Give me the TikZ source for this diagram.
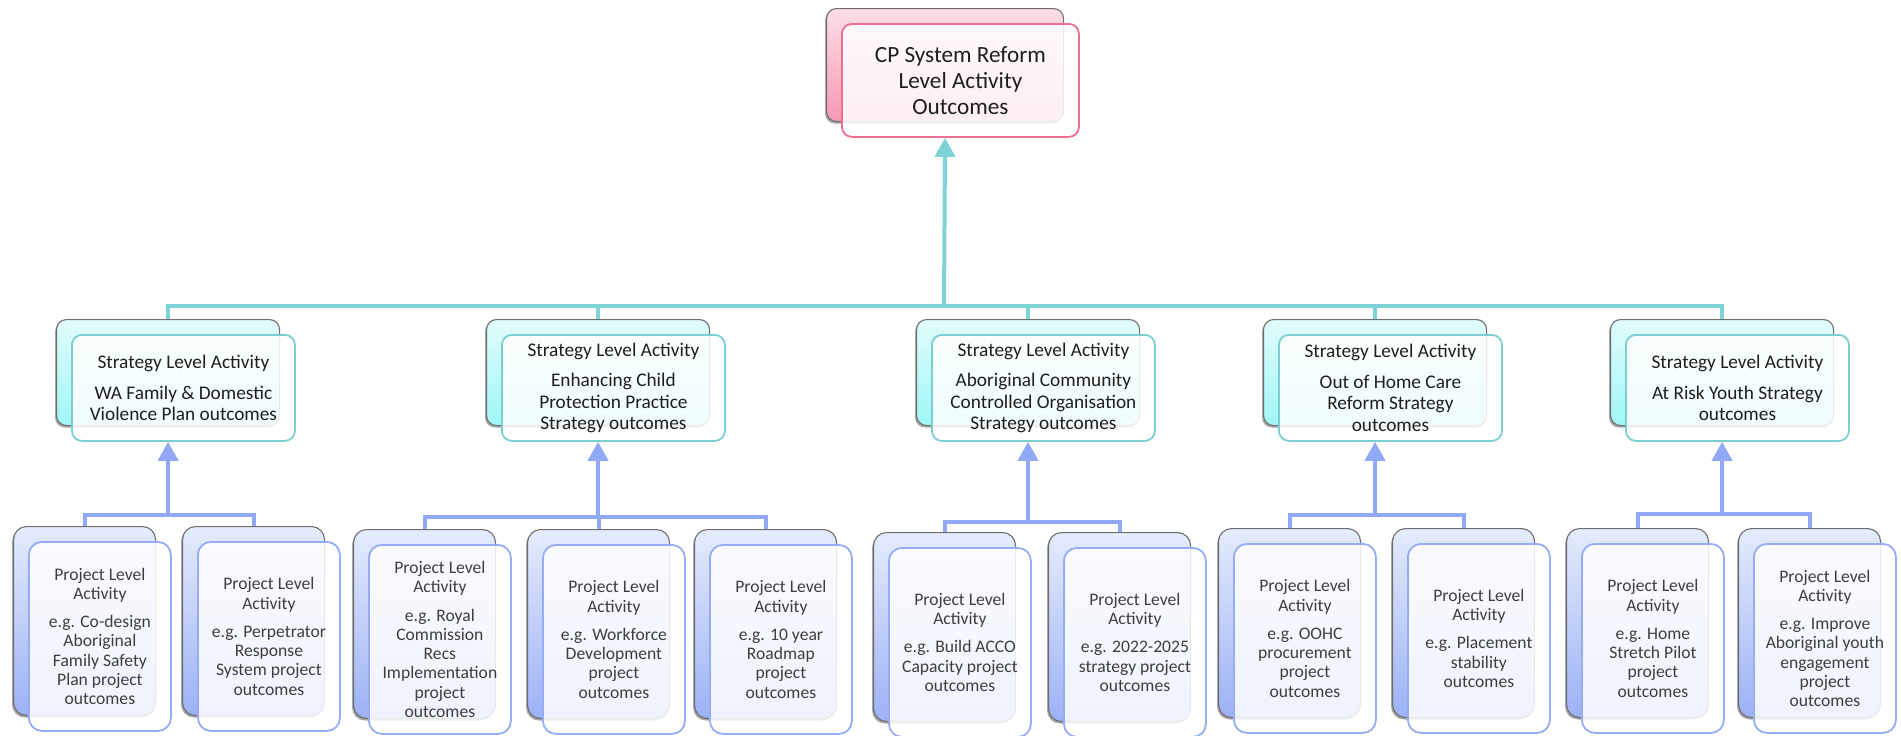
\documentclass[tikz,border=0pt]{standalone}
\usepackage{fontspec}
\setmainfont{Carlito}
\usetikzlibrary{arrows.meta,shadows,backgrounds}

\definecolor{inkgray}{RGB}{30,30,30}
\definecolor{softink}{RGB}{62,62,62}
\definecolor{edgegray}{RGB}{110,110,110}
\definecolor{tealwirec}{RGB}{125,211,213}
\definecolor{bluewirec}{RGB}{145,168,245}
\definecolor{pinkedge}{RGB}{238,112,142}
\definecolor{tealedge}{RGB}{125,206,208}
\definecolor{blueedge}{RGB}{150,172,245}
\definecolor{pinktop}{RGB}{253,222,230}
\definecolor{pinkbot}{RGB}{246,152,180}
\definecolor{cyantop}{RGB}{226,252,252}
\definecolor{cyanbot}{RGB}{160,246,246}
\definecolor{bluetop}{RGB}{229,236,253}
\definecolor{bluebot}{RGB}{156,177,246}

\tikzset{
  backbox/.style={draw=edgegray, line width=1.1pt,
    drop shadow={shadow xshift=-1.5pt, shadow yshift=-2pt, opacity=0.35, fill=black}},
  frontbox/.style={line width=1.8pt, fill=white, fill opacity=0.85, text opacity=1,
    align=center, inner sep=0pt, text=inkgray},
  topback/.style={backbox, rounded corners=10pt, top color=pinktop, bottom color=pinkbot},
  topfront/.style={frontbox, rounded corners=10pt, draw=pinkedge,
    font=\fontsize{23.2}{26}\selectfont},
  stratback/.style={backbox, rounded corners=10pt, top color=cyantop, bottom color=cyanbot},
  stratfront/.style={frontbox, rounded corners=10pt, draw=tealedge,
    font=\fontsize{19.3}{21.5}\selectfont},
  projback/.style={backbox, rounded corners=13pt, top color=bluetop, bottom color=bluebot},
  projfront/.style={frontbox, rounded corners=13pt, draw=blueedge, text=softink,
    font=\fontsize{17.6}{19.3}\selectfont},
  tealwire/.style={draw=tealwirec, line width=4pt},
  bluewire/.style={draw=bluewirec, line width=4pt},
  uparrow/.style={-{Triangle[width=20pt,length=19pt]}},
}

% a stacked pair of boxes: back card plus offset front card carrying the text
% #1 name, #2 x, #3 y (top-left of back card), #4 width, #5 height, #6 kind, #7 text
\newcommand{\pairbox}[7]{%
  \node[#6back, anchor=north west, minimum width=#4pt, minimum height=#5pt] (#1-b) at (#2,#3) {};
  \node[#6front, anchor=north west, minimum width=#4pt, minimum height=#5pt] (#1-f) at (#2+15,#3+15) {#7};
}

\begin{document}
\begin{tikzpicture}[x=1pt,y=-1pt]
\useasboundingbox (0,0) rectangle (1901,736);

% system level
\pairbox{top}{826}{8}{237}{113}{top}{CP System Reform\\Level Activity\\Outcomes}

% strategy level
\pairbox{s1}{56}{319}{223}{106}{strat}{Strategy Level Activity\\[9pt]WA Family \& Domestic\\Violence Plan outcomes}
\pairbox{s2}{486}{319}{223}{106}{strat}{Strategy Level Activity\\[9pt]Enhancing Child\\Protection Practice\\Strategy outcomes}
\pairbox{s3}{916}{319}{223}{106}{strat}{Strategy Level Activity\\[9pt]Aboriginal Community\\Controlled Organisation\\Strategy outcomes}
\pairbox{s4}{1263}{319}{223}{106}{strat}{Strategy Level Activity\\[9pt]Out of Home Care\\Reform Strategy\\outcomes}
\pairbox{s5}{1610}{319}{223}{106}{strat}{Strategy Level Activity\\[9pt]At Risk Youth Strategy\\outcomes}

% project level
\pairbox{p11}{13}{526}{142}{189}{proj}{Project Level\\Activity\\[9pt]e.g. Co-design\\Aboriginal\\Family Safety\\Plan project\\outcomes}
\pairbox{p12}{182}{526}{142}{189}{proj}{Project Level\\Activity\\[9pt]e.g. Perpetrator\\Response\\System project\\outcomes}

\pairbox{p21}{353}{529}{142}{189}{proj}{Project Level\\Activity\\[9pt]e.g. Royal\\Commission\\Recs\\Implementation\\project\\outcomes}
\pairbox{p22}{527}{529}{142}{189}{proj}{Project Level\\Activity\\[9pt]e.g. Workforce\\Development\\project\\outcomes}
\pairbox{p23}{694}{529}{142}{189}{proj}{Project Level\\Activity\\[9pt]e.g. 10 year\\Roadmap\\project\\outcomes}

\pairbox{p31}{873}{532}{142}{189}{proj}{Project Level\\Activity\\[9pt]e.g. Build ACCO\\Capacity project\\outcomes}
\pairbox{p32}{1048}{532}{142}{189}{proj}{Project Level\\Activity\\[9pt]e.g. 2022-2025\\strategy project\\outcomes}

\pairbox{p41}{1218}{528}{142}{189}{proj}{Project Level\\Activity\\[9pt]e.g. OOHC\\procurement\\project\\outcomes}
\pairbox{p42}{1392}{528}{142}{189}{proj}{Project Level\\Activity\\[9pt]e.g. Placement\\stability\\outcomes}

\pairbox{p51}{1566}{528}{142}{189}{proj}{Project Level\\Activity\\[9pt]e.g. Home\\Stretch Pilot\\project\\outcomes}
\pairbox{p52}{1738}{528}{142}{189}{proj}{Project Level\\Activity\\[9pt]e.g. Improve\\Aboriginal youth\\engagement\\project\\outcomes}

\begin{scope}[on background layer]
  % strategies feed the system level
  \coordinate (tbus) at (944,306);
  \draw[tealwire] (s1-b.north) |- (tbus) -| (s5-b.north);
  \foreach \s in {s2,s3,s4}
    \draw[tealwire] (\s-b.north) -- (\s-b.north |- tbus);
  \draw[tealwire, uparrow] (tbus) -- (top-b.south |- top-f.south);

  % projects feed their strategy
  \coordinate (g1bus) at (s1-b.south |- 0,515);
  \coordinate (g2bus) at (s2-b.south |- 0,517);
  \coordinate (g3bus) at (s3-b.south |- 0,522);
  \coordinate (g4bus) at (s4-b.south |- 0,515);
  \coordinate (g5bus) at (s5-b.south |- 0,514);

  \draw[bluewire] (p11-b.north) |- (g1bus) -| (p12-b.north);
  \draw[bluewire] (p21-b.north) |- (g2bus) -| (p23-b.north);
  \draw[bluewire] (p22-b.north) -- (p22-b.north |- g2bus);
  \draw[bluewire] (p31-b.north) |- (g3bus) -| (p32-b.north);
  \draw[bluewire] (p41-b.north) |- (g4bus) -| (p42-b.north);
  \draw[bluewire] (p51-b.north) |- (g5bus) -| (p52-b.north);

  \draw[bluewire, uparrow] (g1bus) -- (s1-b.south |- s1-f.south);
  \draw[bluewire, uparrow] (g2bus) -- (s2-b.south |- s2-f.south);
  \draw[bluewire, uparrow] (g3bus) -- (s3-b.south |- s3-f.south);
  \draw[bluewire, uparrow] (g4bus) -- (s4-b.south |- s4-f.south);
  \draw[bluewire, uparrow] (g5bus) -- (s5-b.south |- s5-f.south);
\end{scope}
\end{tikzpicture}
\end{document}
